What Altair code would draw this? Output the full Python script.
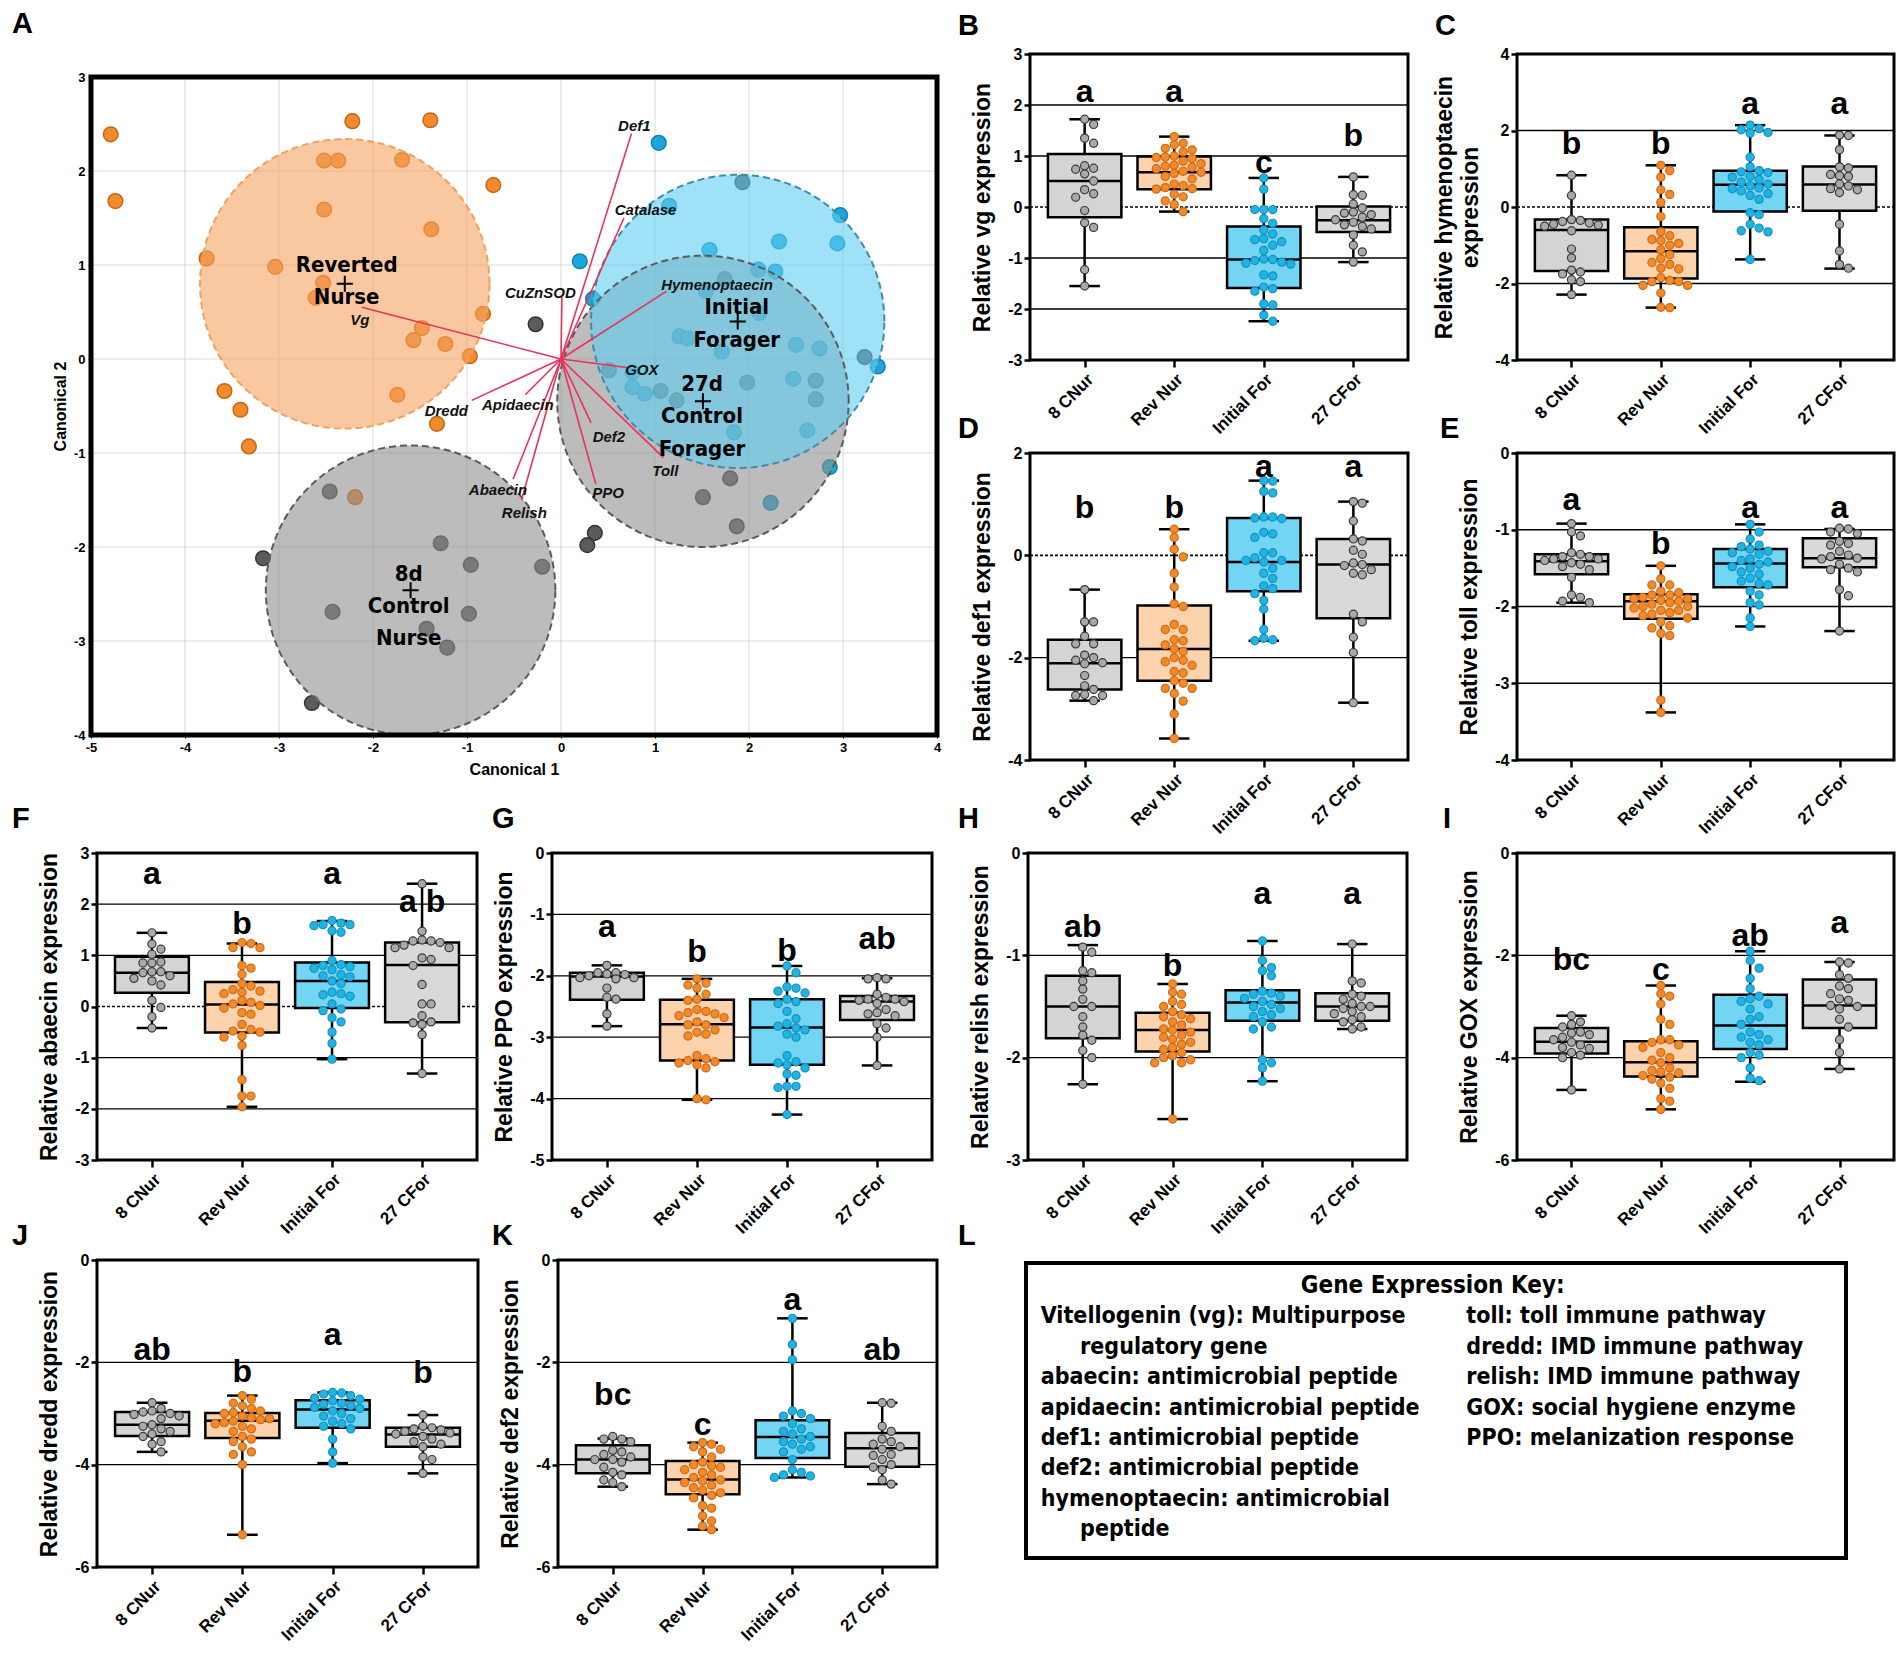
import altair as alt
import numpy as np
import pandas as pd

FONT = "Liberation Sans"
COND = "DejaVu Sans Condensed"

GROUPS = ["8 CNur", "Rev Nur", "Initial For", "27 CFor"]
BOX_FILL = ["#d4d4d4", "#fcd3ad", "#72d5f3", "#d9d9d9"]
PT_FILL = ["#a9a9a9", "#f28a2a", "#1fb4e4", "#a9a9a9"]
PT_STROKE = ["#3a3a3a", "#cf6a14", "#168fbd", "#3a3a3a"]

# ---------------- Panel A data (canonical scores) ----------------
ORANGE_X = [-4.79, -4.74, -2.22, -1.39, -2.52, -2.37, -1.69, -0.72, -2.52, -1.38, -3.77, -3.04, -2.53,
            -2.61, -0.83, -1.48, -1.57, -1.23, -0.97, -3.58, -3.41, -1.74, -1.32, -3.32, -2.19]
ORANGE_Y = [2.39, 1.68, 2.53, 2.54, 2.11, 2.11, 2.12, 1.85, 1.59, 1.38, 1.07, 0.98, 0.81,
            0.65, 0.48, 0.33, 0.20, 0.16, 0.03, -0.34, -0.54, -0.38, -0.69, -0.93, -1.47]
GRAY_X = [-0.27, -2.46, -3.17, -1.28, -0.96, -0.20, -2.43, -0.98, -1.43, -1.21, -2.65, 0.36, 0.28,
          1.93, 1.74, 3.23, 0.51, 1.06, 1.23, 1.98, 2.71, 2.71, 1.80, 1.51, 1.87]
GRAY_Y = [0.37, -1.41, -2.12, -1.96, -2.19, -2.21, -2.69, -2.71, -2.87, -3.07, -3.66, -1.85, -1.98,
          1.88, 0.85, 0.02, -0.12, -0.34, -0.44, -0.25, -0.23, -0.43, -1.27, -1.47, -1.78]
BLUE_X = [1.04, 0.20, 0.34, 2.97, 2.94, 2.32, 1.58, 1.15, 2.10, 2.28, 2.11, 1.54, 1.26, 1.35, 1.71,
          2.50, 2.75, 3.37, 0.76, 0.76, 0.89, 2.47, 1.84, 2.62, 2.86, 2.23]
BLUE_Y = [2.30, 1.04, 0.64, 1.53, 1.23, 1.25, 1.16, 1.63, 0.95, 0.93, 0.49, 0.72, 0.24, 0.22, 0.08,
          0.15, 0.11, -0.08, -0.14, -0.30, -0.37, -0.21, -0.78, -0.76, -1.15, -1.53]

CIRCLE_NAMES = ["27d Control Forager", "8d Control Nurse", "Reverted Nurse", "Initial Forager"]
CIRCLE_CX = [1.51, -1.60, -2.30, 1.88]
CIRCLE_CY = [-0.45, -2.46, 0.80, 0.40]
CIRCLE_R = [1.55, 1.54, 1.54, 1.56]

VEC_NAMES = ["Def1", "Catalase", "CuZnSOD", "Hymenoptaecin", "Vg", "GOX", "Dredd", "Apidaecin",
             "Def2", "Toll", "PPO", "Abaecin", "Relish"]
VEC_X = [0.75, 0.67, 0.01, 1.12, -2.12, 0.70, -0.95, -0.38, 0.32, 1.09, 0.37, -0.51, -0.42]
VEC_Y = [2.40, 1.50, 0.66, 0.72, 0.55, -0.09, -0.44, -0.38, -0.68, -1.05, -1.33, -1.28, -1.50]
VEC_LABEL_X = [0.78, 0.90, -0.22, 1.66, -2.14, 0.86, -1.22, -0.46, 0.51, 1.11, 0.50, -0.67, -0.39]
VEC_LABEL_Y = [2.48, 1.59, 0.70, 0.79, 0.42, -0.12, -0.55, -0.49, -0.83, -1.19, -1.43, -1.39, -1.64]

GROUP_TEXT = ["Reverted", "Nurse", "Initial", "Forager", "27d", "Control", "Forager", "8d", "Control", "Nurse"]
GROUP_TEXT_X = [-2.28, -2.28, 1.87, 1.87, 1.50, 1.50, 1.50, -1.62, -1.62, -1.62]
GROUP_TEXT_Y = [1.00, 0.66, 0.55, 0.20, -0.27, -0.61, -0.96, -2.29, -2.63, -2.97]

# ---------------- Box panel data: [min, q1, median, q3, max] ----------------
VG_BOX = [[-1.55, -0.20, 0.51, 1.04, 1.72], [-0.09, 0.35, 0.68, 0.99, 1.38],
          [-2.24, -1.59, -1.03, -0.38, 0.57], [-1.08, -0.49, -0.26, 0.01, 0.59]]
VG_PTS = [[1.72, 1.62, 1.35, 1.25, 0.81, 0.76, 0.74, 0.65, 0.51, 0.34, 0.26, 0.19, -0.07, -0.31, -0.40, -1.23, -1.55],
          [1.38, 1.25, 1.22, 1.15, 1.12, 1.08, 1.00, 0.98, 0.97, 0.95, 0.90, 0.85, 0.82, 0.80, 0.78, 0.75, 0.70, 0.68,
           0.66, 0.60, 0.55, 0.45, 0.42, 0.38, 0.36, 0.35, 0.25, 0.20, 0.12, 0.05, -0.09],
          [0.57, 0.35, -0.05, -0.05, -0.05, -0.23, -0.32, -0.45, -0.53, -0.64, -0.68, -0.62, -0.75, -0.85, -1.02,
           -1.03, -1.08, -1.05, -1.10, -1.12, -1.33, -1.35, -1.57, -1.60, -1.65, -1.90, -1.92, -2.12, -2.24],
          [0.59, 0.23, 0.24, 0.06, -0.02, -0.10, -0.12, -0.15, -0.20, -0.25, -0.30, -0.35, -0.38, -0.43, -0.55,
           -0.75, -0.88, -1.08]]
VG_LET = ["a", "a", "c", "b"]
VG_LET_Y = [2.05, 2.05, 0.66, 1.19]

HYM_BOX = [[-2.29, -1.67, -0.60, -0.33, 0.83], [-2.63, -1.87, -1.16, -0.53, 1.09],
           [-1.37, -0.12, 0.58, 0.95, 2.14], [-1.61, -0.10, 0.59, 1.06, 1.87]]
HYM_PTS = [[0.83, 0.30, -0.33, -0.35, -0.38, -0.42, -0.45, -0.47, -0.50, -0.62, -1.10, -1.33, -1.65, -1.70,
            -1.75, -1.90, -1.95, -2.29],
           [1.09, 0.95, 0.78, 0.45, 0.33, 0.12, -0.25, -0.65, -0.75, -0.85, -0.88, -0.95, -1.00, -1.12, -1.25,
            -1.35, -1.45, -1.50, -1.60, -1.62, -1.85, -1.92, -1.95, -1.95, -2.05, -2.05, -2.25, -2.62, -2.63],
           [2.14, 2.05, 2.02, 1.95, 1.93, 1.30, 1.05, 0.95, 0.92, 0.90, 0.80, 0.78, 0.72, 0.65, 0.60, 0.55, 0.50,
            0.48, 0.42, 0.35, 0.30, 0.20, -0.15, -0.20, -0.45, -0.55, -0.62, -0.65, -1.37],
           [1.88, 1.87, 1.50, 1.05, 1.02, 0.85, 0.82, 0.80, 0.60, 0.55, 0.48, 0.45, 0.38, -0.45, -1.15, -1.50, -1.60]]
HYM_LET = ["b", "b", "a", "a"]
HYM_LET_Y = [1.38, 1.38, 2.42, 2.42]

DEF1_BOX = [[-2.84, -2.62, -2.11, -1.65, -0.67], [-3.58, -2.45, -1.83, -0.98, 0.51],
            [-1.67, -0.70, -0.13, 0.73, 1.46], [-2.88, -1.23, -0.18, 0.32, 1.05]]
DEF1_PTS = [[-0.67, -1.30, -1.30, -1.58, -1.73, -1.73, -1.95, -2.00, -2.05, -2.10, -2.12, -2.35, -2.55, -2.62,
             -2.72, -2.74, -2.74, -2.84],
            [0.51, 0.35, 0.12, -0.03, -0.35, -0.62, -0.95, -1.00, -1.35, -1.45, -1.45, -1.65, -1.67, -1.75, -1.83,
             -1.88, -2.00, -2.05, -2.08, -2.15, -2.27, -2.30, -2.45, -2.50, -2.60, -2.60, -2.70, -2.85, -3.10, -3.58],
            [1.46, 1.45, 1.25, 1.22, 0.75, 0.73, 0.72, 0.75, 0.45, 0.42, 0.35, 0.05, 0.05, -0.05, -0.10, -0.10,
             -0.13, -0.25, -0.35, -0.45, -0.60, -0.65, -0.75, -0.88, -1.05, -1.45, -1.62, -1.67, -1.65],
            [1.05, 1.02, 0.67, 0.32, 0.28, 0.10, 0.02, -0.15, -0.18, -0.20, -0.28, -0.35, -0.38, -1.15, -1.30,
             -1.60, -1.90, -2.88]]
DEF1_LET = ["b", "b", "a", "a"]
DEF1_LET_Y = [0.73, 0.73, 1.54, 1.54]

TOLL_BOX = [[-1.95, -1.58, -1.41, -1.32, -0.92], [-3.38, -2.16, -1.93, -1.84, -1.47],
            [-2.26, -1.75, -1.44, -1.25, -0.93], [-2.32, -1.49, -1.37, -1.11, -0.99]]
TOLL_PTS = [[-0.92, -1.03, -1.08, -1.30, -1.32, -1.35, -1.35, -1.38, -1.38, -1.40, -1.43, -1.45, -1.48, -1.52,
             -1.62, -1.85, -1.88, -1.93, -1.95],
            [-1.47, -1.64, -1.72, -1.72, -1.80, -1.82, -1.85, -1.85, -1.88, -1.90, -1.90, -1.92, -1.93, -1.95,
             -1.97, -2.00, -2.00, -2.02, -2.05, -2.05, -2.08, -2.10, -2.12, -2.15, -2.20, -2.25, -2.28, -2.35,
             -2.38, -3.22, -3.38],
            [-0.93, -1.03, -1.12, -1.20, -1.22, -1.25, -1.28, -1.30, -1.32, -1.38, -1.40, -1.42, -1.45, -1.48,
             -1.50, -1.55, -1.58, -1.63, -1.67, -1.70, -1.72, -1.80, -1.85, -1.95, -1.98, -2.15, -2.26],
            [-0.98, -0.99, -1.03, -1.05, -1.15, -1.18, -1.20, -1.28, -1.33, -1.35, -1.37, -1.38, -1.45, -1.50,
             -1.52, -1.55, -1.78, -1.86, -2.32]]
TOLL_LET = ["a", "b", "a", "a"]
TOLL_LET_Y = [-0.74, -1.31, -0.85, -0.85]

ABA_BOX = [[-0.42, 0.27, 0.66, 0.97, 1.44], [-1.96, -0.51, 0.04, 0.48, 1.23],
           [-1.03, -0.03, 0.50, 0.86, 1.67], [-1.31, -0.31, 0.81, 1.25, 2.40]]
ABA_PTS = [[1.44, 1.22, 1.12, 1.02, 0.87, 0.85, 0.85, 0.68, 0.68, 0.66, 0.60, 0.55, 0.50, 0.42, 0.12, -0.02,
            -0.20, -0.42],
           [1.25, 1.23, 1.15, 1.15, 0.80, 0.75, 0.63, 0.45, 0.40, 0.33, 0.30, 0.28, 0.25, 0.12, 0.08, 0.05, 0.02,
            -0.03, -0.12, -0.15, -0.35, -0.45, -0.48, -0.50, -0.58, -0.60, -0.76, -1.43, -1.75, -1.75, -1.96],
           [1.68, 1.63, 1.60, 1.60, 1.58, 1.48, 1.45, 0.90, 0.82, 0.80, 0.78, 0.75, 0.72, 0.62, 0.60, 0.58, 0.50,
            0.45, 0.28, 0.25, 0.23, 0.20, 0.05, -0.05, -0.08, -0.22, -0.30, -0.50, -0.72, -1.03],
           [2.40, 1.47, 1.30, 1.28, 1.28, 1.25, 1.20, 1.15, 1.15, 0.95, 0.92, 0.80, 0.43, 0.05, 0.05, -0.18, -0.30,
            -0.32, -0.35, -0.55, -1.31]]
ABA_LET = ["a", "b", "a", "a b"]
ABA_LET_Y = [2.40, 1.41, 2.40, 1.85]

PPO_BOX = [[-2.82, -2.39, -2.01, -1.95, -1.83], [-4.02, -3.38, -2.79, -2.39, -2.05],
           [-4.26, -3.45, -2.84, -2.38, -1.84], [-3.46, -2.72, -2.42, -2.33, -2.04]]
PPO_PTS = [[-1.83, -1.95, -1.95, -1.97, -1.98, -2.00, -2.03, -2.03, -2.05, -2.20, -2.35, -2.38, -2.62, -2.82],
           [-2.05, -2.12, -2.15, -2.20, -2.30, -2.38, -2.40, -2.55, -2.58, -2.60, -2.62, -2.65, -2.68, -2.75,
            -2.80, -2.80, -2.88, -2.92, -2.95, -2.98, -3.30, -3.35, -3.38, -3.40, -3.42, -3.45, -3.50, -4.00, -4.02],
           [-1.84, -1.95, -2.18, -2.20, -2.25, -2.28, -2.38, -2.42, -2.45, -2.58, -2.70, -2.78, -2.82, -2.85,
            -2.88, -2.95, -3.00, -3.30, -3.40, -3.42, -3.45, -3.50, -3.60, -3.62, -3.80, -3.82, -3.80, -4.26],
           [-2.03, -2.05, -2.05, -2.30, -2.35, -2.38, -2.38, -2.40, -2.42, -2.45, -2.55, -2.60, -2.62, -2.65,
            -2.78, -2.85, -3.00, -3.46]]
PPO_LET = ["a", "b", "b", "ab"]
PPO_LET_Y = [-1.36, -1.77, -1.76, -1.57]

REL_BOX = [[-2.26, -1.81, -1.50, -1.20, -0.90], [-2.60, -1.94, -1.73, -1.56, -1.28],
           [-2.23, -1.64, -1.46, -1.34, -0.86], [-1.72, -1.64, -1.50, -1.37, -0.89]]
REL_PTS = [[-0.92, -0.97, -1.15, -1.17, -1.25, -1.33, -1.43, -1.50, -1.50, -1.60, -1.70, -1.78, -1.83, -1.93,
            -2.00, -2.26],
           [-1.28, -1.36, -1.38, -1.45, -1.48, -1.50, -1.55, -1.58, -1.60, -1.62, -1.65, -1.68, -1.72, -1.73,
            -1.75, -1.78, -1.80, -1.82, -1.85, -1.87, -1.90, -1.92, -1.95, -1.98, -2.00, -2.02, -2.05, -2.05, -2.60],
           [-0.86, -1.05, -1.12, -1.15, -1.20, -1.35, -1.37, -1.38, -1.40, -1.42, -1.45, -1.48, -1.50, -1.52,
            -1.55, -1.58, -1.60, -1.65, -1.70, -1.72, -2.02, -2.05, -2.10, -2.23],
           [-0.89, -1.25, -1.27, -1.38, -1.40, -1.43, -1.47, -1.50, -1.50, -1.52, -1.55, -1.57, -1.60, -1.63,
            -1.65, -1.70, -1.72]]
REL_LET = ["ab", "b", "a", "a"]
REL_LET_Y = [-0.82, -1.20, -0.50, -0.50]

GOX_BOX = [[-4.63, -3.92, -3.69, -3.42, -3.18], [-5.01, -4.37, -4.09, -3.68, -2.59],
           [-4.47, -3.83, -3.37, -2.77, -1.92], [-4.22, -3.42, -2.98, -2.47, -2.13]]
GOX_PTS = [[-3.18, -3.30, -3.35, -3.40, -3.50, -3.52, -3.55, -3.60, -3.65, -3.70, -3.75, -3.80, -3.82, -3.90,
            -3.95, -4.00, -4.63],
           [-2.59, -2.75, -2.80, -2.95, -3.25, -3.35, -3.65, -3.65, -3.70, -3.75, -3.80, -3.90, -4.00, -4.05,
            -4.10, -4.20, -4.25, -4.28, -4.30, -4.35, -4.38, -4.42, -4.50, -4.60, -4.80, -4.85, -5.01],
           [-1.92, -2.10, -2.25, -2.45, -2.65, -2.80, -2.85, -2.90, -2.95, -3.05, -3.20, -3.25, -3.35, -3.50,
            -3.55, -3.60, -3.65, -3.70, -3.75, -3.90, -3.95, -4.00, -4.20, -4.40, -4.45],
           [-2.13, -2.15, -2.38, -2.45, -2.60, -2.65, -2.75, -2.85, -2.88, -2.98, -3.00, -3.05, -3.25, -3.40,
            -3.65, -3.90, -4.22]]
GOX_LET = ["bc", "c", "ab", "a"]
GOX_LET_Y = [-2.28, -2.49, -1.82, -1.56]

DRE_BOX = [[-3.75, -3.44, -3.22, -2.97, -2.79], [-5.37, -3.48, -3.14, -2.99, -2.65],
           [-3.97, -3.28, -2.92, -2.74, -2.59], [-4.17, -3.65, -3.41, -3.28, -3.03]]
DRE_PTS = [[-2.79, -2.90, -2.95, -2.97, -3.00, -3.02, -3.05, -3.10, -3.22, -3.25, -3.30, -3.35, -3.40, -3.45,
            -3.55, -3.60, -3.75],
           [-2.65, -2.72, -2.80, -2.85, -2.90, -2.95, -2.98, -3.00, -3.05, -3.08, -3.10, -3.12, -3.15, -3.18,
            -3.20, -3.25, -3.30, -3.35, -3.45, -3.50, -3.55, -3.65, -3.75, -3.80, -4.00, -5.37],
           [-2.59, -2.60, -2.62, -2.65, -2.70, -2.72, -2.75, -2.80, -2.82, -2.85, -2.88, -2.90, -2.95, -3.00,
            -3.05, -3.10, -3.15, -3.20, -3.25, -3.30, -3.50, -3.75, -3.97],
           [-3.03, -3.25, -3.28, -3.30, -3.32, -3.35, -3.38, -3.40, -3.45, -3.50, -3.55, -3.60, -3.65, -3.85,
            -3.90, -4.17]]
DRE_LET = ["ab", "b", "a", "b"]
DRE_LET_Y = [-1.96, -2.38, -1.66, -2.40]

DEF2_BOX = [[-4.43, -4.17, -3.90, -3.62, -3.49], [-5.27, -4.58, -4.29, -3.93, -3.57],
            [-4.25, -3.87, -3.46, -3.13, -1.14], [-4.38, -4.04, -3.68, -3.38, -2.79]]
DEF2_PTS = [[-3.45, -3.50, -3.50, -3.55, -3.72, -3.75, -3.80, -3.85, -3.90, -3.90, -3.95, -4.05, -4.15, -4.20,
             -4.30, -4.35, -4.43],
            [-3.57, -3.60, -3.65, -3.70, -3.75, -3.85, -3.95, -4.00, -4.02, -4.05, -4.10, -4.15, -4.20, -4.25,
             -4.30, -4.32, -4.35, -4.40, -4.45, -4.50, -4.55, -4.60, -4.65, -4.80, -4.85, -5.00, -5.10, -5.20, -5.27],
            [-1.14, -1.65, -1.95, -2.95, -3.00, -3.05, -3.10, -3.20, -3.30, -3.35, -3.40, -3.45, -3.50, -3.55,
             -3.60, -3.65, -3.70, -3.75, -3.90, -4.10, -4.15, -4.20, -4.22, -4.25],
            [-2.79, -2.80, -3.25, -3.35, -3.50, -3.55, -3.60, -3.65, -3.70, -3.80, -3.82, -3.90, -4.00, -4.05,
             -4.10, -4.30, -4.38]]
DEF2_LET = ["bc", "c", "a", "ab"]
DEF2_LET_Y = [-2.84, -3.42, -0.98, -1.96]

KEY_TITLE = "Gene Expression Key:"
KEY_LEFT = ["Vitellogenin (vg): Multipurpose", "regulatory gene", "abaecin: antimicrobial peptide",
            "apidaecin: antimicrobial peptide", "def1: antimicrobial peptide", "def2: antimicrobial peptide",
            "hymenoptaecin: antimicrobial", "peptide"]
KEY_LEFT_INDENT = [0, 1, 0, 0, 0, 0, 0, 1]
KEY_RIGHT = ["toll: toll immune pathway", "dredd: IMD immune pathway", "relish: IMD immune pathway",
             "GOX: social hygiene enzyme", "PPO: melanization response"]

PANEL_LETTERS = ["A", "B", "C", "D", "E", "F", "G", "H", "I", "J", "K", "L"]

# ---------------- layout (pixels inside the 1888 x 1638 canvas) ----------------
TOTAL_W, TOTAL_H = 1888, 1638
PANELS = {
    "A": (83, 929, 69, 727),
    "B": (1022, 1400, 46, 352),
    "C": (1509, 1886, 46, 352),
    "D": (1022, 1400, 445, 752),
    "E": (1509, 1886, 445, 752),
    "F": (89, 469, 845, 1152),
    "G": (544, 924, 845, 1152),
    "H": (1020, 1399, 845, 1152),
    "I": (1509, 1886, 845, 1152),
    "J": (89, 470, 1252, 1559),
    "K": (550, 929, 1252, 1559),
    "L": (1018, 1838, 1255, 1550),
}
LETTER_POS = {"A": (4, 25), "B": (950, 27), "C": (1427, 27), "D": (950, 430), "E": (1432, 430),
              "F": (4, 820), "G": (484, 820), "H": (950, 820), "I": (1435, 820),
              "J": (4, 1237), "K": (484, 1237), "L": (950, 1237)}
XDOM = [-0.61, 3.61]
BOX_HALF, CAP_HALF = 0.41, 0.17
LABEL_EXPR = "[" + ",".join("'%s'" % g for g in GROUPS) + "][datum.value]"
NUM_EXPR = "'' + datum.value"


def swarm(vals, ppu_y, ppu_x, diam=8.0, step=0.1, maxoff=0.38):
    cands = [0.0]
    k = 1
    while k * step <= maxoff + 1e-9:
        cands += [k * step, -k * step]
        k += 1
    order = sorted(range(len(vals)), key=lambda i: -vals[i])
    placed, offs = [], [0.0] * len(vals)
    for i in order:
        y = vals[i] * ppu_y
        chosen, best, best_gap = None, 0.0, -1.0
        for c in cands:
            x = c * ppu_x
            gap = min([float(np.hypot(x - px, y - py)) for px, py in placed] or [1e9])
            if gap >= diam:
                chosen = c
                break
            if gap > best_gap:
                best_gap, best = gap, c
        if chosen is None:
            chosen = best
        offs[i] = chosen
        placed.append((chosen * ppu_x, y))
    return offs


def box_panel(key, ytitle, lo, hi, step, box, pts, lets, let_y, tpad=12):
    x0, x1, y0, y1 = PANELS[key]
    ticks = list(range(lo, hi + 1, step))
    ysc = alt.Scale(domain=[lo, hi], range=[y1, y0], nice=False, zero=False)
    xsc = alt.Scale(domain=XDOM, range=[x0, x1], nice=False, zero=False)
    yax = alt.Axis(orient="left", offset=-x0, values=ticks, labelExpr=NUM_EXPR, title=ytitle, tickSize=6,
                   tickWidth=2.5, tickColor="black", labelFontSize=16, labelFontWeight="bold", labelPadding=2,
                   titleFontSize=23, titleFontWeight="bold", titlePadding=tpad, titleLineHeight=26,
                   minExtent=24, maxExtent=24, grid=False, domain=False)
    xax = alt.Axis(orient="bottom", offset=y1 - TOTAL_H, values=[0, 1, 2, 3], labelExpr=LABEL_EXPR,
                   labelAngle=-45, labelFontSize=17, labelFontWeight="bold", tickSize=7, tickWidth=2.5,
                   tickColor="black", labelPadding=4, labelFlush=False, grid=False, domain=False, title=None)
    ppu_y = (y1 - y0) / (hi - lo)
    ppu_x = (x1 - x0) / (XDOM[1] - XDOM[0])
    prow = []
    for gi, vals in enumerate(pts):
        offs = swarm(vals, ppu_y, ppu_x)
        for v, o in zip(vals, offs):
            prow.append({"g": GROUPS[gi], "xo": gi + o, "v": v})
    pdf = pd.DataFrame(prow)
    bdf = pd.DataFrame([{"g": GROUPS[gi], "gi": gi, "mn": b[0], "q1": b[1], "med": b[2], "q3": b[3],
                         "mx": b[4], "xl": gi - BOX_HALF, "xr": gi + BOX_HALF,
                         "cl": gi - CAP_HALF, "cr": gi + CAP_HALF} for gi, b in enumerate(box)])
    ldf = pd.DataFrame({"gi": list(range(4)), "ly": let_y, "t": lets})
    fdf = pd.DataFrame({"xa": [XDOM[0]], "xb": [XDOM[1]], "ya": [lo], "yb": [hi]})

    def X(f):
        return alt.X(f, type="quantitative", scale=xsc, axis=xax)

    def Y(f):
        return alt.Y(f, type="quantitative", scale=ysc, axis=yax)

    layers = []
    grid_vals = [t for t in ticks if lo < t < hi and t != 0]
    if grid_vals:
        gdf = pd.DataFrame({"v": grid_vals, "xa": XDOM[0], "xb": XDOM[1]})
        layers.append(alt.Chart(gdf).mark_rule(color="black", strokeWidth=1.3)
                      .encode(x=X("xa"), x2="xb", y=Y("v")))
    if lo < 0 < hi:
        zdf = pd.DataFrame({"v": [0], "xa": XDOM[0], "xb": XDOM[1]})
        layers.append(alt.Chart(zdf).mark_rule(color="black", strokeWidth=1.6, strokeDash=[3, 2])
                      .encode(x=X("xa"), x2="xb", y=Y("v")))
    base = alt.Chart(bdf)
    layers += [
        base.mark_rule(color="black", strokeWidth=2.5).encode(x=X("gi"), y=Y("mn"), y2="mx"),
        base.mark_rule(color="black", strokeWidth=2.5).encode(x=X("cl"), x2="cr", y=Y("mn")),
        base.mark_rule(color="black", strokeWidth=2.5).encode(x=X("cl"), x2="cr", y=Y("mx")),
        base.mark_rect(stroke="black", strokeWidth=2.5).encode(
            x=X("xl"), x2="xr", y=Y("q1"), y2="q3",
            color=alt.Color("g:N", scale=alt.Scale(domain=GROUPS, range=BOX_FILL), legend=None)),
        base.mark_rule(color="black", strokeWidth=2.5).encode(x=X("xl"), x2="xr", y=Y("med")),
        alt.Chart(pdf).mark_circle(size=66, opacity=1, strokeWidth=1.2).encode(
            x=X("xo"), y=Y("v"),
            fill=alt.Fill("g:N", scale=alt.Scale(domain=GROUPS, range=PT_FILL), legend=None),
            stroke=alt.Stroke("g:N", scale=alt.Scale(domain=GROUPS, range=PT_STROKE), legend=None)),
        alt.Chart(ldf).mark_text(font=FONT, fontSize=32, fontWeight="bold", baseline="alphabetic",
                                 align="center", color="black").encode(x=X("gi"), y=Y("ly"), text="t:N"),
        alt.Chart(fdf).mark_rect(filled=False, color="black", strokeWidth=3)
        .encode(x=X("xa"), x2="xb", y=Y("ya"), y2="yb"),
    ]
    return alt.layer(*layers)


# ---------------- Panel A ----------------
def panel_a():
    x0, x1, y0, y1 = PANELS["A"]
    xs = alt.Scale(domain=[-5, 4], range=[x0, x1], nice=False, zero=False)
    ys = alt.Scale(domain=[-4, 3], range=[y1, y0], nice=False, zero=False)
    common = dict(labelExpr=NUM_EXPR, grid=False, tickSize=3, tickColor="black", labelFontSize=13,
                  labelFontWeight="bold", titleFontSize=16, titleFontWeight="bold", domain=False,
                  labelPadding=3, labelFlush=False)
    ax_x = alt.Axis(orient="bottom", offset=y1 - TOTAL_H, values=list(range(-5, 5)), title="Canonical 1",
                    titlePadding=7, **common)
    ax_y = alt.Axis(orient="left", offset=-x0, values=list(range(-4, 4)), title="Canonical 2", titlePadding=5,
                    minExtent=18, maxExtent=18, **common)

    def X(f):
        return alt.X(f, type="quantitative", scale=xs, axis=ax_x)

    def Y(f):
        return alt.Y(f, type="quantitative", scale=ys, axis=ax_y)

    layers = []
    vg = pd.DataFrame({"g": list(range(-5, 5)), "lo": -4, "hi": 3})
    hg = pd.DataFrame({"g": list(range(-4, 4)), "lo": -5, "hi": 4})
    layers.append(alt.Chart(vg).mark_rule(color="#d9d9d9", strokeWidth=1).encode(x=X("g"), y=Y("lo"), y2="hi"))
    layers.append(alt.Chart(hg).mark_rule(color="#d9d9d9", strokeWidth=1).encode(y=Y("g"), x=X("lo"), x2="hi"))
    pt_sets = [(ORANGE_X, ORANGE_Y, "#f28b2c", "#c9650e"), (GRAY_X, GRAY_Y, "#5b5b5b", "#333333"),
               (BLUE_X, BLUE_Y, "#1ba7dd", "#117fae")]
    for xs_, ys_, fc, sc in pt_sets:
        df = pd.DataFrame({"x": xs_, "y": ys_})
        layers.append(alt.Chart(df).mark_circle(size=215, color=fc, stroke=sc, strokeWidth=1.5, opacity=1)
                      .encode(x=X("x"), y=Y("y")))
    fills = ["#8f8f8f", "#8f8f8f", "#f5a462", "#5fcef1"]
    edges = ["#5a5a5a", "#5a5a5a", "#eea160", "#3d8ca8"]
    th = np.linspace(np.pi, 0, 121)
    th2 = np.linspace(0, 2 * np.pi, 181)
    outlines = []
    crosses = pd.DataFrame({"x": CIRCLE_CX, "y": CIRCLE_CY})
    for i in range(len(CIRCLE_CX)):
        cx, cy, r = CIRCLE_CX[i], CIRCLE_CY[i], CIRCLE_R[i]
        adf = pd.DataFrame({"x": cx + r * np.cos(th), "yt": cy + r * np.sin(th), "yb": cy - r * np.sin(th)})
        layers.append(alt.Chart(adf).mark_area(color=fills[i], opacity=0.6)
                      .encode(x=X("x"), y=Y("yt"), y2="yb"))
        odf = pd.DataFrame({"x": cx + r * np.cos(th2), "y": cy + r * np.sin(th2), "i": np.arange(len(th2))})
        outlines.append(alt.Chart(odf).mark_line(color=edges[i], strokeDash=[7, 4], strokeWidth=2)
                        .encode(x=X("x"), y=Y("y"), order="i:Q"))
    layers += outlines
    layers.append(alt.Chart(crosses).mark_point(shape="M-1,0L1,0M0,-1L0,1", size=260, filled=False,
                                                color="black", strokeWidth=2, opacity=1)
                  .encode(x=X("x"), y=Y("y")))
    vdf = pd.DataFrame({"x0": [0.0] * len(VEC_X), "y0": [0.0] * len(VEC_Y), "x1": VEC_X, "y1": VEC_Y})
    layers.append(alt.Chart(vdf).mark_rule(color="#e8325a", strokeWidth=1.6)
                  .encode(x=X("x0"), y=Y("y0"), x2="x1", y2="y1"))
    ldf = pd.DataFrame({"x": VEC_LABEL_X, "y": VEC_LABEL_Y, "t": VEC_NAMES})
    layers.append(alt.Chart(ldf).mark_text(font=FONT, fontSize=15, fontWeight="bold", fontStyle="italic",
                                           color="#111111", baseline="middle", align="center")
                  .encode(x=X("x"), y=Y("y"), text="t:N"))
    gdf = pd.DataFrame({"x": GROUP_TEXT_X, "y": GROUP_TEXT_Y, "t": GROUP_TEXT})
    layers.append(alt.Chart(gdf).mark_text(font=COND, fontSize=22, fontWeight="bold", color="black",
                                           baseline="middle", align="center")
                  .encode(x=X("x"), y=Y("y"), text="t:N"))
    fdf = pd.DataFrame({"xa": [-5], "xb": [4], "ya": [-4], "yb": [3]})
    layers.append(alt.Chart(fdf).mark_rect(filled=False, color="black", strokeWidth=5)
                  .encode(x=X("xa"), x2="xb", y=Y("ya"), y2="yb"))
    return alt.layer(*layers)


# ---------------- Panel L ----------------
def panel_l():
    x0, x1, y0, y1 = PANELS["L"]
    first, pitch = 30.0, 30.4
    dmin, dmax = -first / pitch, ((y1 - y0) - first) / pitch
    ys = alt.Scale(domain=[dmin, dmax], range=[y0, y1], nice=False, zero=False)
    xs = alt.Scale(domain=[0, 1], range=[x0, x1], nice=False, zero=False)
    left_x = [0.066 if ind else 0.018 for ind in KEY_LEFT_INDENT]
    rows = [{"t": KEY_TITLE, "row": 0, "x": 0.496}]
    rows += [{"t": t, "row": i + 1, "x": left_x[i]} for i, t in enumerate(KEY_LEFT)]
    rows += [{"t": t, "row": i + 1, "x": 0.537} for i, t in enumerate(KEY_RIGHT)]
    df = pd.DataFrame(rows)
    base = alt.Chart(df).encode(x=alt.X("x:Q", scale=xs, axis=None), y=alt.Y("row:Q", scale=ys, axis=None),
                                text="t:N")
    title_l = base.transform_filter("datum.row == 0").mark_text(font=COND, fontSize=24, fontWeight="bold",
                                                                align="center", baseline="alphabetic",
                                                                color="black")
    body = base.transform_filter("datum.row > 0").mark_text(font=COND, fontSize=23, fontWeight="bold",
                                                            align="left", baseline="alphabetic",
                                                            color="black")
    fdf = pd.DataFrame({"xa": [0], "xb": [1], "ya": [dmin], "yb": [dmax]})
    frame = alt.Chart(fdf).mark_rect(filled=False, color="black", strokeWidth=4).encode(
        x=alt.X("xa:Q", scale=xs, axis=None), x2="xb", y=alt.Y("ya:Q", scale=ys, axis=None), y2="yb")
    return alt.layer(title_l, body, frame)


def letters():
    df = pd.DataFrame({"t": PANEL_LETTERS,
                       "px": [LETTER_POS[k][0] for k in PANEL_LETTERS],
                       "py": [LETTER_POS[k][1] for k in PANEL_LETTERS]})
    return alt.Chart(df).mark_text(font=FONT, fontSize=29, fontWeight="bold", align="left",
                                   baseline="alphabetic", color="black").encode(
        x=alt.X("px:Q", scale=None), y=alt.Y("py:Q", scale=None), text="t:N")


panels = [
    panel_a(),
    box_panel("B", "Relative vg expression", -3, 3, 1, VG_BOX, VG_PTS, VG_LET, VG_LET_Y),
    box_panel("C", ["Relative hymenoptaecin", "expression"], -4, 4, 2, HYM_BOX, HYM_PTS, HYM_LET, HYM_LET_Y,
              tpad=11),
    box_panel("D", "Relative def1 expression", -4, 2, 2, DEF1_BOX, DEF1_PTS, DEF1_LET, DEF1_LET_Y),
    box_panel("E", "Relative toll expression", -4, 0, 1, TOLL_BOX, TOLL_PTS, TOLL_LET, TOLL_LET_Y),
    box_panel("F", "Relative abaecin expression", -3, 3, 1, ABA_BOX, ABA_PTS, ABA_LET, ABA_LET_Y),
    box_panel("G", "Relative PPO expression", -5, 0, 1, PPO_BOX, PPO_PTS, PPO_LET, PPO_LET_Y),
    box_panel("H", "Relative relish expression", -3, 0, 1, REL_BOX, REL_PTS, REL_LET, REL_LET_Y),
    box_panel("I", "Relative GOX expression", -6, 0, 2, GOX_BOX, GOX_PTS, GOX_LET, GOX_LET_Y),
    box_panel("J", "Relative dredd expression", -6, 0, 2, DRE_BOX, DRE_PTS, DRE_LET, DRE_LET_Y),
    box_panel("K", "Relative def2 expression", -6, 0, 2, DEF2_BOX, DEF2_PTS, DEF2_LET, DEF2_LET_Y),
    panel_l(),
    letters(),
]

chart = alt.layer(*panels).resolve_scale(
    x="independent", y="independent", color="independent", fill="independent", stroke="independent"
).resolve_axis(x="independent", y="independent").properties(
    width=TOTAL_W, height=TOTAL_H, autosize=alt.AutoSizeParams(type="none"), padding=0
)

chart = chart.configure(font=FONT, background="white").configure_view(stroke="transparent").configure_axis(
    labelColor="black", titleColor="black", labelFont=FONT, titleFont=FONT
)

chart.save("out.html", embed_options={"renderer": "svg", "actions": False})
